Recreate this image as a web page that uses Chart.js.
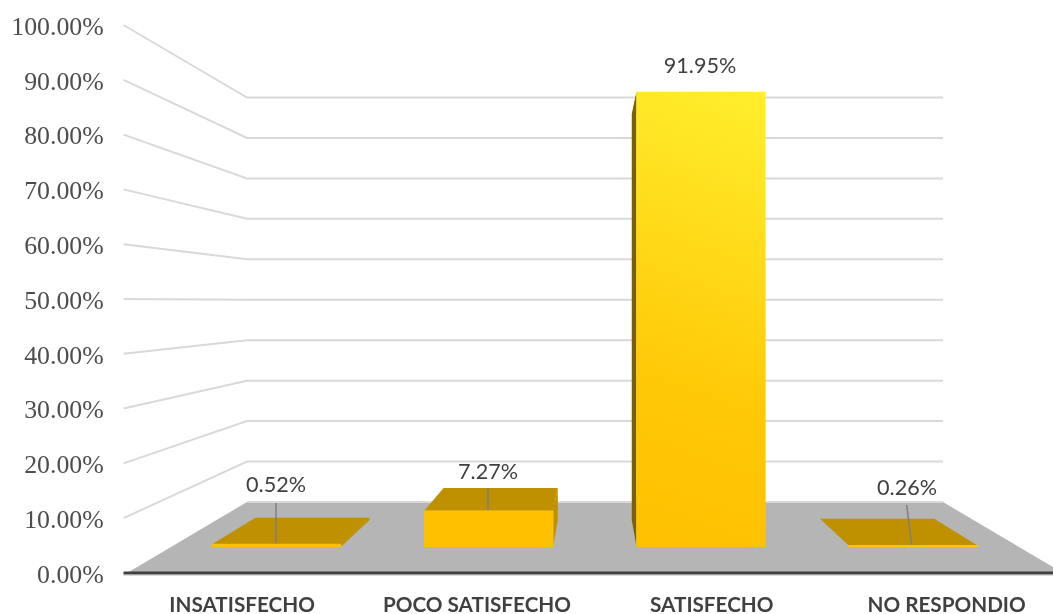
<!DOCTYPE html>
<html><head><meta charset="utf-8">
<style>html,body{margin:0;padding:0;background:#fff;overflow:hidden;width:1053px;height:614px}#w{width:1053px;height:614px;overflow:hidden}canvas{display:block}</style>
<script src="https://cdn.jsdelivr.net/npm/chart.js@4/dist/chart.umd.min.js"></script>
</head><body><div id="w"><canvas id="c" width="1064" height="614" style="width:1064px;height:614px"></canvas></div>
<script>
const categories = ['INSATISFECHO', 'POCO SATISFECHO', 'SATISFECHO', 'NO RESPONDIO'];
const values = [0.52, 7.27, 91.95, 0.26];
const barIndex = [0, 1, 2, 3];
const wallTicks = [0, 10, 20, 30, 40, 50, 60, 70, 80, 90, 100];

const TEXT = '#404040', GRID = '#d9d9d9', FLOOR = '#b5b5b5', TOP = '#bf9000', SIDE_R = '#bf9000', SIDE_L = '#7a5f05';
const VX = 594.5, SHRINK = 0.887;
const WALL = {front: 123.5, left: 247, right: 943};
const callouts = [
  {lx: 276, ly: 485, from: [276, 503], to: [276, 543]},
  {lx: 488, ly: 472, from: [488, 488], to: [488, 510]},
  {lx: 700, ly: 66},
  {lx: 907, ly: 488, from: [906.7, 505], to: [911.7, 545]}
];
const backX = x => VX + (x - VX) * SHRINK;
function poly(ctx, pts, fill) {
  ctx.beginPath();
  pts.forEach((p, i) => i ? ctx.lineTo(p[0], p[1]) : ctx.moveTo(p[0], p[1]));
  ctx.closePath(); ctx.fillStyle = fill; ctx.fill();
}
const scene = {
  id: 'scene',
  beforeDatasetsDraw(chart) {
    const {ctx, scales} = chart, y = scales.y, wall = scales.yWall, front = scales.yBar, back = scales.yBarBack;
    ctx.save();
    const f0 = y.getPixelForValue(0), w0 = wall.getPixelForValue(0);
    poly(ctx, [[127, f0], [WALL.left, w0], [WALL.right, w0], [1063, f0]], FLOOR);
    ctx.strokeStyle = GRID; ctx.lineWidth = 2; ctx.lineCap = 'butt';
    wallTicks.forEach(v => {
      if (v === 0) return;
      ctx.beginPath();
      ctx.moveTo(WALL.front, y.getPixelForValue(v));
      ctx.lineTo(WALL.left, wall.getPixelForValue(v));
      ctx.lineTo(WALL.right, wall.getPixelForValue(v));
      ctx.stroke();
    });
    ctx.beginPath(); ctx.moveTo(WALL.left, w0); ctx.lineTo(WALL.right, w0); ctx.stroke();
    ctx.strokeStyle = GRID; ctx.lineWidth = 1;
    ctx.beginPath(); ctx.moveTo(WALL.front, f0 + 2.5); ctx.lineTo(1064, f0 + 2.5); ctx.stroke();
    ctx.strokeStyle = '#404040'; ctx.lineWidth = 3;
    ctx.beginPath(); ctx.moveTo(WALL.front, f0); ctx.lineTo(1064, f0); ctx.stroke();

    chart.getDatasetMeta(0).data.forEach((el, i) => {
      const v = values[i], l = el.x - el.width / 2, r = el.x + el.width / 2;
      const ft = front.getPixelForValue(v), fb = front.getPixelForValue(0);
      const bt = back.getPixelForValue(v), bb = back.getPixelForValue(0);
      poly(ctx, [[l, ft], [r, ft], [backX(r), bt], [backX(l), bt]], TOP);
      if (r < VX) poly(ctx, [[r, ft], [backX(r), bt], [backX(r), bb], [r, fb]], SIDE_R);
      if (l > VX && v > 1) poly(ctx, [[l, ft], [backX(l), bt], [backX(l), bb], [l, fb]], SIDE_L);
    });
    ctx.restore();
  },
  afterDatasetsDraw(chart) {
    const {ctx} = chart;
    ctx.save();
    ctx.font = '21.6px Lato';
    ctx.textAlign = 'center'; ctx.textBaseline = 'middle';
    callouts.forEach((c, i) => {
      if (c.from) {
        ctx.strokeStyle = '#7f7f7f'; ctx.lineWidth = 1.5;
        ctx.beginPath(); ctx.moveTo(c.from[0], c.from[1]); ctx.lineTo(c.to[0], c.to[1]); ctx.stroke();
      }
      ctx.fillStyle = TEXT;
      ctx.fillText(values[i].toFixed(2) + '%', c.lx, c.ly);
    });
    ctx.restore();
  }
};
function frontFill(c) {
  const g = c.chart.ctx.createLinearGradient(636, 547, 800, 92);
  g.addColorStop(0, '#ffc000');
  g.addColorStop(0.35, '#ffc908');
  g.addColorStop(1, '#fff02e');
  return g;
}
new Chart(document.getElementById('c'), {
  type: 'bar',
  data: {
    labels: categories,
    datasets: [{
      data: barIndex.map((x, i) => ({x, y: values[i]})),
      xAxisID: 'xBar', yAxisID: 'yBar',
      backgroundColor: frontFill,
      barThickness: 128.8,
      borderWidth: 0
    }]
  },
  options: {
    responsive: false,
    animation: false,
    layout: {padding: {top: 25, left: 0, right: 0, bottom: 0}},
    plugins: {legend: {display: false}, tooltip: {enabled: false}},
    scales: {
      x: {
        type: 'category', position: 'bottom', offset: true,
        grid: {display: false, drawTicks: false},
        border: {display: false},
        afterFit: s => { s.height = 41; s.paddingLeft = 0; s.paddingRight = 0; },
        ticks: {color: TEXT, font: {family: 'Lato', size: 20.7, weight: 'bold'}, padding: 20, maxRotation: 0, autoSkip: false}
      },
      xBar: {type: 'linear', display: false, min: -0.7154, max: 3.711, offset: false},
      y: {
        position: 'left', min: 0, max: 100,
        grid: {display: false, drawTicks: false},
        border: {display: false},
        afterFit: s => { s.width = 124.7; s.paddingTop = 0; s.paddingBottom = 0; },
        ticks: {stepSize: 10, color: '#4d4d4d', font: {family: 'Liberation Serif', size: 25.8}, padding: 21, labelOffset: 3,
          callback: v => v.toFixed(2) + '%'}
      },
      yBar: {display: false, min: -5.318, max: 105.5},
      yWall: {display: false, min: -17.55, max: 117.92},
      yBarBack: {display: false, min: -12.02, max: 112.24}
    }
  },
  plugins: [scene]
});
</script></body></html>
